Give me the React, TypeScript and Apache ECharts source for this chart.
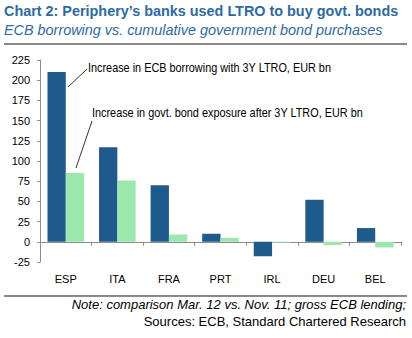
import React, { useEffect, useRef } from "react";
import * as echarts from "echarts";

const categories = ["ESP", "ITA", "FRA", "PRT", "IRL", "DEU", "BEL"];
const ecbBorrowing = [210, 117, 70, 10, -18, 52, 17];
const govtBondExposure = [85, 76, 9, 5, -1, -4, -7];
const yMin = -25;
const yMax = 225;
const yInterval = 25;

const titleText = "Chart 2: Periphery\u2019s banks used LTRO to buy govt. bonds";
const subtitleText = "ECB borrowing vs. cumulative government bond purchases";
const annotation1 = "Increase in ECB borrowing with 3Y LTRO, EUR bn";
const annotation2 = "Increase in govt. bond exposure after 3Y LTRO, EUR bn";
const noteText = "Note: comparison Mar. 12 vs. Nov. 11; gross ECB lending;";
const sourceText = "Sources: ECB, Standard Chartered Research";

const SANS = "'Liberation Sans', Arial, sans-serif";

export default function App() {
  const ref = useRef<HTMLDivElement>(null);
  useEffect(() => {
    document.body.style.margin = "0";
    if (!ref.current) return;
    const chart = echarts.init(ref.current, null, { renderer: "svg" });
    chart.setOption({
      animation: false,
      backgroundColor: "#ffffff",
      grid: { left: 40, right: 11, top: 60, bottom: 76, containLabel: false },
      xAxis: {
        type: "category",
        data: categories,
        axisLine: { onZero: true, lineStyle: { color: "#8c8c8c", width: 1 } },
        axisTick: { show: true, length: 4, lineStyle: { color: "#8c8c8c" } },
        axisLabel: {
          position: "bottom",
          color: "#000",
          fontFamily: SANS,
          fontSize: 11,
          margin: 11,
        },
        splitLine: { show: false },
      },
      yAxis: {
        type: "value",
        min: yMin,
        max: yMax,
        interval: yInterval,
        axisLine: { show: true, lineStyle: { color: "#8c8c8c", width: 1 } },
        axisTick: { show: true, length: 3, lineStyle: { color: "#8c8c8c" } },
        axisLabel: { color: "#000", fontFamily: SANS, fontSize: 11, margin: 10 },
        splitLine: { show: false },
      },
      series: [
        {
          type: "bar",
          data: ecbBorrowing,
          itemStyle: { color: "#1f5a8c" },
          barGap: "0%",
          barCategoryGap: "29%",
        },
        {
          type: "bar",
          data: govtBondExposure,
          itemStyle: { color: "#9ce8ac" },
          barGap: "0%",
          barCategoryGap: "29%",
        },
      ],
      graphic: [
        {
          type: "text",
          x: 4,
          y: 11,
          style: { text: titleText, font: `bold 14.4px ${SANS}`, fill: "#2d6aa5", verticalAlign: "middle" },
        },
        {
          type: "text",
          x: 4,
          y: 30,
          style: { text: subtitleText, font: `italic 14.4px ${SANS}`, fill: "#2d6aa5", verticalAlign: "middle" },
        },
        {
          type: "line",
          shape: { x1: 4, y1: 44, x2: 407, y2: 44 },
          style: { stroke: "#8a8a8a", lineWidth: 2 },
        },
        {
          type: "line",
          shape: { x1: 4, y1: 296, x2: 407, y2: 296 },
          style: { stroke: "#8a8a8a", lineWidth: 2 },
        },
        {
          type: "text",
          x: 88,
          y: 67,
          scaleX: 0.87,
          style: { text: annotation1, font: `12.5px ${SANS}`, fill: "#000", verticalAlign: "middle" },
        },
        {
          type: "text",
          x: 92,
          y: 112,
          scaleX: 0.87,
          style: { text: annotation2, font: `12.5px ${SANS}`, fill: "#000", verticalAlign: "middle" },
        },
        {
          type: "line",
          shape: { x1: 68, y1: 87, x2: 87, y2: 69 },
          style: { stroke: "#333", lineWidth: 1 },
        },
        {
          type: "line",
          shape: { x1: 76, y1: 168, x2: 92, y2: 121 },
          style: { stroke: "#333", lineWidth: 1 },
        },
        {
          type: "text",
          x: 406,
          y: 304,
          style: { text: noteText, font: `italic 13px ${SANS}`, fill: "#000", align: "right", verticalAlign: "middle" },
        },
        {
          type: "text",
          x: 406,
          y: 321,
          style: { text: sourceText, font: `13px ${SANS}`, fill: "#000", align: "right", verticalAlign: "middle" },
        },
      ],
    });
    return () => chart.dispose();
  }, []);
  return <div ref={ref} style={{ width: 412, height: 338 }} />;
}
